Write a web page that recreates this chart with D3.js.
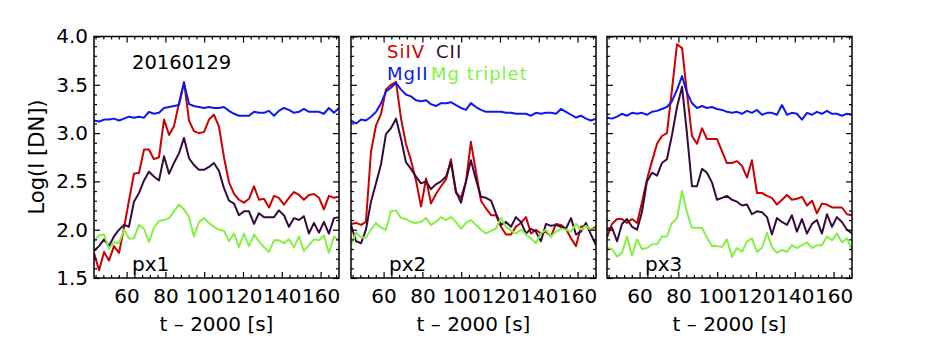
<!DOCTYPE html>
<html>
<head>
<meta charset="utf-8">
<script src="https://cdn.jsdelivr.net/npm/d3@7"></script>
<style>
  body { margin: 0; background: #fff; }
  text { font-family: "DejaVu Sans", sans-serif; fill: #000; }
  .axis .domain { display: none; }
  .axis line { stroke: #000; stroke-width: 1.2; }
  .axis text { font-size: 20px; font-family: "DejaVu Sans", sans-serif; fill: #000; }
</style>
</head>
<body>
<div id="chart"></div>
<script>
const width = 943;
const height = 354;

// time axis (t - 2000 s)
const times = [43.2, 45.8, 48.4, 50.9, 53.5, 56.1, 58.7, 61.2, 63.8, 66.4,
  69.0, 71.5, 74.1, 76.7, 79.3, 81.9, 84.4, 87.0, 89.6, 92.2,
  94.7, 97.3, 99.9, 102.5, 105.0, 107.6, 110.2, 112.8, 115.4, 117.9,
  120.5, 123.1, 125.7, 128.2, 130.8, 133.4, 136.0, 138.5, 141.1, 143.7,
  146.3, 148.9, 151.4, 154.0, 156.6, 159.2, 161.7, 164.3, 166.9, 169.5];

// px1
const siiv1 = [1.76, 1.58, 1.77, 1.68, 1.83, 1.76, 2.02, 2.30, 2.58, 2.59,
  2.83, 2.83, 2.73, 2.75, 3.14, 2.98, 3.07, 3.31, 3.53, 3.13,
  3.02, 3.00, 3.01, 3.14, 3.19, 3.07, 2.75, 2.49, 2.37, 2.31,
  2.28, 2.32, 2.45, 2.31, 2.32, 2.23, 2.35, 2.33, 2.26, 2.33,
  2.39, 2.36, 2.31, 2.36, 2.37, 2.33, 2.21, 2.35, 2.33, 2.34];
const cii1 = [1.78, 1.83, 1.90, 1.83, 1.93, 2.00, 2.05, 2.03, 2.29, 2.38,
  2.51, 2.60, 2.55, 2.51, 2.76, 2.58, 2.69, 2.79, 2.95, 2.74,
  2.67, 2.62, 2.62, 2.65, 2.69, 2.61, 2.43, 2.30, 2.27, 2.15,
  2.19, 2.19, 2.06, 2.17, 2.13, 2.13, 2.13, 2.20, 2.15, 2.03,
  2.12, 2.10, 2.14, 1.96, 2.07, 1.97, 2.08, 1.96, 2.12, 2.13];
const mgii1 = [3.13, 3.12, 3.14, 3.14, 3.15, 3.13, 3.15, 3.17, 3.16, 3.17,
  3.16, 3.22, 3.20, 3.21, 3.26, 3.27, 3.28, 3.29, 3.52, 3.30,
  3.28, 3.27, 3.26, 3.27, 3.26, 3.26, 3.27, 3.23, 3.20, 3.18,
  3.18, 3.18, 3.22, 3.21, 3.21, 3.23, 3.18, 3.23, 3.26, 3.24,
  3.21, 3.22, 3.25, 3.22, 3.22, 3.22, 3.20, 3.26, 3.21, 3.26];
const mgtrip1 = [1.88, 1.94, 1.95, 1.80, 1.87, 1.86, 2.00, 1.91, 1.91, 2.05,
  2.01, 1.87, 2.02, 2.09, 2.10, 2.12, 2.19, 2.26, 2.21, 2.13,
  1.93, 2.08, 2.12, 2.07, 2.03, 2.00, 1.99, 1.88, 1.96, 1.82,
  1.96, 1.83, 1.95, 1.88, 1.82, 1.77, 1.89, 1.89, 1.86, 1.90,
  1.82, 1.93, 1.78, 1.84, 1.90, 1.89, 1.94, 1.76, 1.93, 1.89];

// px2
const siiv2 = [2.06, 2.07, 2.05, 2.08, 2.81, 3.08, 3.20, 3.45, 3.50, 3.53,
  3.15, 2.89, 2.72, 2.51, 2.24, 2.53, 2.27, 2.37, 2.45, 2.52,
  2.73, 2.38, 2.33, 2.50, 2.91, 2.60, 2.30, 2.22, 2.15, 2.15,
  2.03, 1.95, 1.95, 2.03, 2.07, 2.13, 1.96, 2.00, 1.96, 1.98,
  1.93, 2.06, 2.05, 2.01, 1.91, 1.83, 2.03, 2.04, 2.00, 2.03];
const cii2 = [2.05, 1.88, 1.86, 2.00, 2.29, 2.48, 2.68, 2.99, 3.05, 3.15,
  2.94, 2.70, 2.63, 2.55, 2.48, 2.50, 2.42, 2.47, 2.50, 2.55,
  2.70, 2.40, 2.28, 2.50, 2.72, 2.52, 2.34, 2.33, 2.30, 2.17,
  2.05, 2.08, 2.03, 2.13, 2.08, 1.96, 2.01, 1.98, 1.88, 2.06,
  2.04, 2.05, 2.03, 2.01, 2.12, 1.95, 1.98, 2.07, 1.95, 1.84];
const mgii2 = [3.13, 3.10, 3.14, 3.13, 3.17, 3.22, 3.31, 3.43, 3.47, 3.52,
  3.45, 3.40, 3.38, 3.34, 3.33, 3.34, 3.30, 3.28, 3.31, 3.31,
  3.32, 3.29, 3.26, 3.24, 3.31, 3.27, 3.24, 3.22, 3.22, 3.22,
  3.22, 3.21, 3.21, 3.20, 3.20, 3.20, 3.18, 3.21, 3.20, 3.21,
  3.21, 3.20, 3.25, 3.22, 3.19, 3.16, 3.18, 3.15, 3.13, 3.15];
const mgtrip2 = [1.84, 1.97, 1.92, 1.92, 2.00, 2.07, 2.02, 2.00, 2.19, 2.20,
  2.12, 2.11, 2.08, 2.07, 2.08, 2.12, 2.05, 2.08, 2.13, 2.10,
  2.13, 2.08, 2.01, 2.07, 2.10, 2.05, 2.00, 1.96, 1.99, 2.01,
  2.12, 2.03, 1.99, 1.96, 2.00, 1.95, 1.91, 1.86, 1.96, 2.00,
  1.93, 1.98, 2.01, 2.00, 1.98, 2.06, 2.00, 2.04, 2.00, 2.01];

// px3
const siiv3 = [1.92, 2.06, 2.11, 2.11, 2.07, 2.11, 2.07, 2.28, 2.52, 2.71,
  2.89, 2.97, 3.00, 3.45, 3.92, 3.88, 3.42, 2.97, 2.89, 3.05,
  2.94, 2.94, 2.94, 2.81, 2.69, 2.69, 2.71, 2.66, 2.54, 2.72,
  2.38, 2.38, 2.35, 2.33, 2.26, 2.31, 2.36, 2.31, 2.32, 2.34,
  2.25, 2.30, 2.17, 2.27, 2.26, 2.23, 2.23, 2.23, 2.16, 2.15];
const cii3 = [2.01, 2.02, 1.88, 2.06, 2.11, 2.03, 2.00, 2.18, 2.50, 2.59,
  2.56, 2.69, 2.73, 2.98, 3.27, 3.48, 3.00, 2.45, 2.45, 2.63,
  2.59, 2.49, 2.31, 2.33, 2.35, 2.31, 2.29, 2.25, 2.26, 2.16,
  2.19, 2.18, 2.13, 1.95, 2.12, 2.08, 2.05, 2.15, 1.98, 2.11,
  1.96, 2.06, 2.10, 1.96, 2.16, 2.03, 2.13, 2.08, 2.00, 1.96];
const mgii3 = [3.16, 3.15, 3.17, 3.20, 3.18, 3.21, 3.20, 3.21, 3.19, 3.22,
  3.23, 3.25, 3.27, 3.33, 3.45, 3.59, 3.42, 3.31, 3.26, 3.28,
  3.26, 3.27, 3.25, 3.24, 3.22, 3.21, 3.22, 3.20, 3.23, 3.21,
  3.24, 3.19, 3.21, 3.21, 3.19, 3.29, 3.19, 3.21, 3.20, 3.14,
  3.21, 3.19, 3.22, 3.20, 3.23, 3.20, 3.20, 3.18, 3.20, 3.19];
const mgtrip3 = [1.81, 1.80, 1.72, 1.76, 1.93, 1.73, 1.90, 1.80, 1.81, 1.85,
  1.85, 1.93, 1.93, 2.07, 2.12, 2.40, 2.18, 2.02, 2.02, 2.02,
  1.92, 1.83, 1.83, 1.82, 1.90, 1.72, 1.81, 1.77, 1.88, 1.91,
  1.77, 1.81, 1.97, 1.82, 1.76, 1.79, 1.77, 1.84, 1.81, 1.84,
  1.87, 1.81, 1.84, 1.84, 1.93, 1.89, 1.96, 1.87, 1.91, 1.79];

const panelNames = ['px1', 'px2', 'px3'];
const lineNames = ['SiIV', 'CII', 'MgII', 'Mg triplet'];
const lineColors = ['#cc0000', '#370a3c', '#0c18f0', '#84f044'];
const xTicks = [60, 80, 100, 120, 140, 160];
const xMinor = [44, 48, 52, 56, 64, 68, 72, 76, 84, 88, 92, 96, 104, 108, 112, 116,
  124, 128, 132, 136, 144, 148, 152, 156, 164, 168];
const yTicks = [1.5, 2.0, 2.5, 3.0, 3.5, 4.0];
const yMinor = [1.6, 1.7, 1.8, 1.9, 2.1, 2.2, 2.3, 2.4, 2.6, 2.7, 2.8, 2.9,
  3.1, 3.2, 3.3, 3.4, 3.6, 3.7, 3.8, 3.9];

const panels = [
  [siiv1, cii1, mgii1, mgtrip1],
  [siiv2, cii2, mgii2, mgtrip2],
  [siiv3, cii3, mgii3, mgtrip3]
];

const panelLeft = [94, 351, 607];
const panelW = 245;
const plotTop = 36.5;
const plotBottom = 278;

const svg = d3.select('#chart')
  .append('svg')
  .attr('width', width)
  .attr('height', height);

const y = d3.scaleLinear().domain([1.5, 4.0]).range([plotBottom, plotTop]);

panels.forEach(function (series, p) {
  const left = panelLeft[p];
  const x = d3.scaleLinear().domain([43.2, 169.5]).range([left, left + panelW]);
  const g = svg.append('g').attr('class', 'panel');

  g.append('clipPath').attr('id', 'clip' + p)
    .append('rect')
    .attr('x', left).attr('y', plotTop)
    .attr('width', panelW).attr('height', plotBottom - plotTop);

  const line = d3.line()
    .x((d, i) => x(times[i]))
    .y(d => y(d));

  g.selectAll('.series')
    .data(series)
    .enter()
    .append('path')
    .attr('class', 'series')
    .attr('clip-path', 'url(#clip' + p + ')')
    .attr('d', d => line(d))
    .style('fill', 'none')
    .style('stroke', (d, i) => lineColors[i])
    .style('stroke-width', 2)
    .style('stroke-linejoin', 'round');

  // axes: ticks inward on all four sides
  g.append('g').attr('class', 'axis')
    .attr('transform', `translate(0,${plotBottom})`)
    .call(d3.axisBottom(x).tickValues(xTicks).tickSize(-6).tickPadding(11).tickFormat(d3.format('d')));
  g.append('g').attr('class', 'axis')
    .attr('transform', `translate(0,${plotBottom})`)
    .call(d3.axisBottom(x).tickValues(xMinor).tickSize(-3).tickFormat(''));
  g.append('g').attr('class', 'axis')
    .attr('transform', `translate(0,${plotTop})`)
    .call(d3.axisTop(x).tickValues(xTicks).tickSize(-6).tickFormat(''));
  g.append('g').attr('class', 'axis')
    .attr('transform', `translate(0,${plotTop})`)
    .call(d3.axisTop(x).tickValues(xMinor).tickSize(-3).tickFormat(''));

  g.append('g').attr('class', 'axis')
    .attr('transform', `translate(${left},0)`)
    .call(d3.axisLeft(y).tickValues(yTicks).tickSize(-6).tickPadding(6)
      .tickFormat(p === 0 ? d3.format('.1f') : ''));
  g.append('g').attr('class', 'axis')
    .attr('transform', `translate(${left},0)`)
    .call(d3.axisLeft(y).tickValues(yMinor).tickSize(-3).tickFormat(''));
  g.append('g').attr('class', 'axis')
    .attr('transform', `translate(${left + panelW},0)`)
    .call(d3.axisRight(y).tickValues(yTicks).tickSize(-6).tickFormat(''));
  g.append('g').attr('class', 'axis')
    .attr('transform', `translate(${left + panelW},0)`)
    .call(d3.axisRight(y).tickValues(yMinor).tickSize(-3).tickFormat(''));

  g.append('rect')
    .attr('x', left).attr('y', plotTop)
    .attr('width', panelW).attr('height', plotBottom - plotTop)
    .style('fill', 'none')
    .style('stroke', '#000')
    .style('stroke-width', 1.5);

  g.append('text')
    .attr('x', left + 38)
    .attr('y', 271)
    .text(panelNames[p])
    .style('font-size', '20px');

  g.append('text')
    .attr('x', left + panelW / 2)
    .attr('y', 331)
    .text('t \u2013 2000 [s]')
    .style('font-size', '20px')
    .style('text-anchor', 'middle');
});

svg.append('text')
  .attr('transform', `translate(44,157) rotate(-90)`)
  .text('Log(I [DN])')
  .style('font-size', '21px')
  .style('text-anchor', 'middle');

svg.append('text')
  .attr('x', 132)
  .attr('y', 69)
  .text('20160129')
  .style('font-size', '19.5px');

// legend in the middle panel
const legendPos = [[387, 58], [436, 58], [387, 80], [431, 80]];
svg.selectAll('.legend')
  .data(lineNames)
  .enter()
  .append('text')
  .attr('class', 'legend')
  .attr('x', (d, i) => legendPos[i][0])
  .attr('y', (d, i) => legendPos[i][1])
  .text(d => d)
  .style('font-size', '18px')
  .style('letter-spacing', '1px')
  .style('fill', (d, i) => lineColors[i]);
</script>
</body>
</html>
